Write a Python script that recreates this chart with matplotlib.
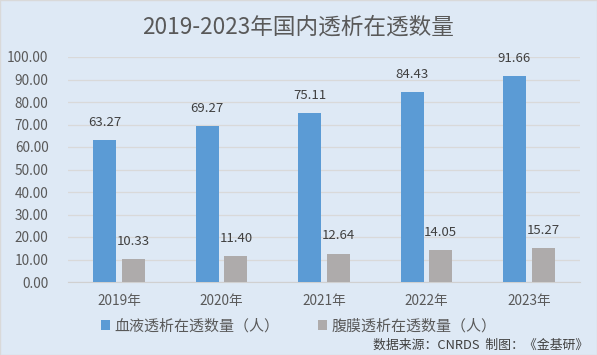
import matplotlib.pyplot as plt
import numpy as np

plt.rcParams["font.family"] = ["Noto Sans CJK SC", "DejaVu Sans"]

years = ["2019年", "2020年", "2021年", "2022年", "2023年"]
hemo = [63.27, 69.27, 75.11, 84.43, 91.66]
perit = [10.33, 11.40, 12.64, 14.05, 15.27]

BG = "#DEE9F5"
BLUE = "#5B9BD5"
GRAY = "#AEABAB"
TXT = "#595959"

fig = plt.figure(figsize=(5.97, 3.55), dpi=100, facecolor=BG)
ax = fig.add_axes([68 / 597, 1 - 282 / 355, 512 / 597, 225 / 355], facecolor=BG)

x = np.arange(len(years))
w = 0.225
b1 = ax.bar(x - 0.14, hemo, w, color=BLUE, label="血液透析在透数量（人）", zorder=3)
b2 = ax.bar(x + 0.14, perit, w, color=GRAY, label="腹膜透析在透数量（人）", zorder=3)

for bars in (b1, b2):
    ax.bar_label(bars, labels=[f"{v:.2f}" for v in bars.datavalues], padding=8,
                 fontsize=9.5, color="#404040")

ax.set_xlim(-0.5, len(years) - 0.5)
ax.set_ylim(0, 100)
ax.set_yticks(np.arange(0, 101, 10))
ax.set_yticklabels([f"{v:.2f}" for v in range(0, 101, 10)])
ax.set_xticks(x)
ax.set_xticklabels(years)
ax.tick_params(axis="both", length=0, colors=TXT, labelsize=9.8)
ax.tick_params(axis="y", pad=14)
ax.tick_params(axis="x", pad=9)
ax.grid(axis="y", color="#D9D9D9", linewidth=0.9, zorder=0)
for s in ("top", "right", "left"):
    ax.spines[s].set_visible(False)
ax.spines["bottom"].set_color("#D0D0D0")

fig.text(0.5, 1 - 27 / 355, "2019-2023年国内透析在透数量", ha="center", va="center",
         fontsize=16.3, color=TXT)

fig.legend(handles=[b1, b2], loc="center", bbox_to_anchor=(0.5, 1 - 326 / 355), ncol=2,
           frameon=False, fontsize=10.8, labelcolor=TXT, handlelength=0.6, handleheight=0.6,
           columnspacing=2.6, handletextpad=0.3)

fig.text(588 / 597, 1 - 345 / 355, "数据来源：CNRDS  制图：《金基研》", ha="right", va="center",
         fontsize=9.3, color="#404040")

fig.patches.append(plt.Rectangle((0, 0), 1, 1, transform=fig.transFigure, fill=False,
                                 edgecolor="#D9D9D9", linewidth=1))

fig.savefig("out.png", dpi=100, facecolor=BG)
